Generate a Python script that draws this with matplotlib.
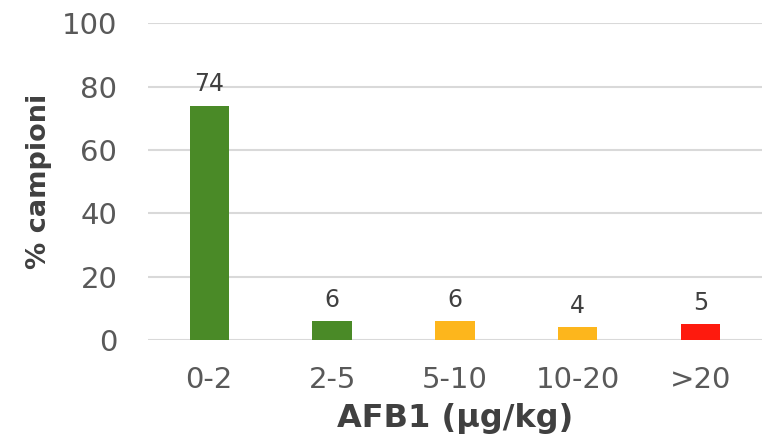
import matplotlib.pyplot as plt
import numpy as np

# dati
categorie = ["0-2", "2-5", "5-10", "10-20", ">20"]
percentuali = [74, 6, 6, 4, 5]
colori = ["#4a8a27", "#4a8a27", "#fdb61c", "#fdb61c", "#fe1a0e"]
yticks = [0, 20, 40, 60, 80, 100]

plt.rcParams['font.family'] = ['DejaVu Sans']

fig = plt.figure(figsize=(7.62, 4.46), dpi=100, facecolor='white')
ax = fig.add_axes([0.194, 0.238, 0.806, 0.710])

x = np.arange(len(categorie))
ax.bar(x, percentuali, width=0.32, color=colori, zorder=3)

# etichette dei valori sopra le barre
for xi, v in zip(x, percentuali):
    ax.text(xi, v + 4.5, str(v), ha='center', va='baseline', fontsize=17, color='#404040')

ax.set_xlim(-0.5, 4.5)
ax.set_ylim(0, 100)
ax.set_yticks(yticks)
ax.set_xticks(x)
ax.set_xticklabels(categorie)
ax.grid(axis='y', color='#d9d9d9', linewidth=1.5, zorder=0)
ax.tick_params(axis='both', length=0, labelsize=21, labelcolor='#595959')
ax.tick_params(axis='y', pad=22)
ax.tick_params(axis='x', pad=19)
for s in ax.spines.values():
    s.set_visible(False)

ax.set_ylabel("% campioni", fontsize=19.5, fontweight='bold', color='#404040', labelpad=7)
ax.set_xlabel("AFB1 (µg/kg)", fontsize=23, fontweight='bold', color='#404040', labelpad=6)

fig.savefig("out.png", dpi=100)
